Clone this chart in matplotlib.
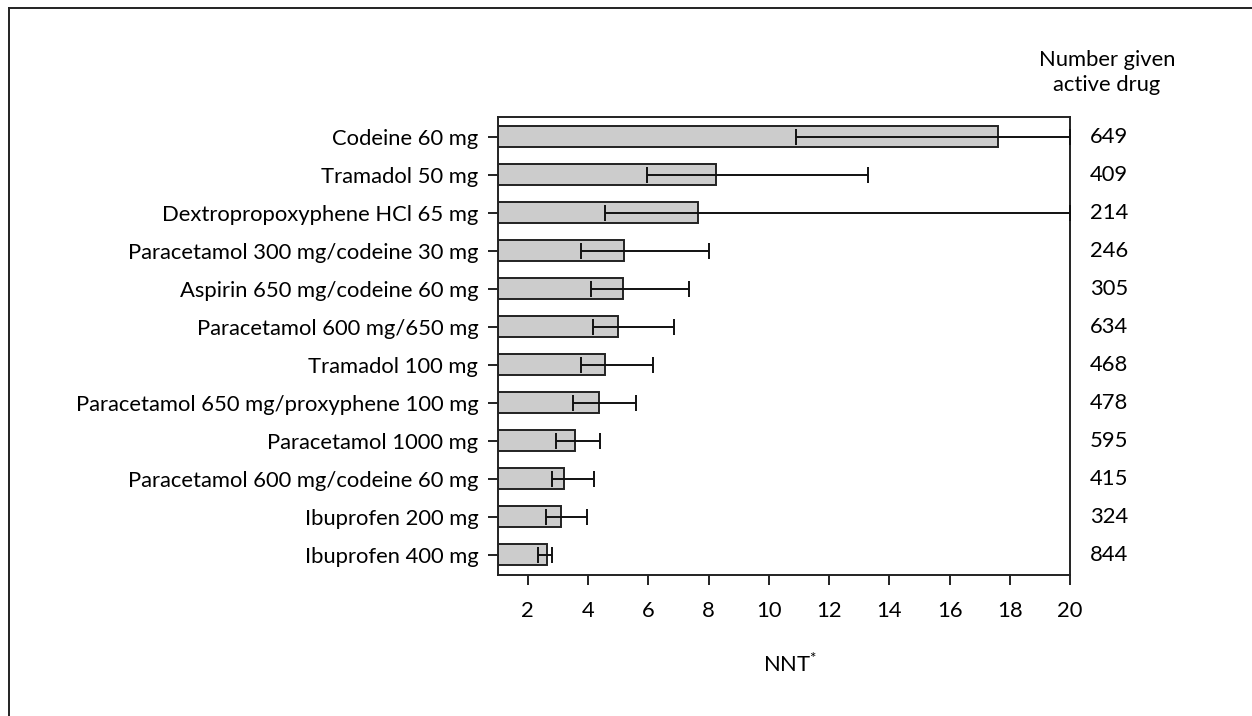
import matplotlib
matplotlib.use('Agg')
import matplotlib.pyplot as plt
from matplotlib.lines import Line2D
from matplotlib.transforms import blended_transform_factory

plt.rcParams['font.family'] = ['Lato', 'DejaVu Sans']
plt.rcParams['mathtext.fontset'] = 'custom'
plt.rcParams['mathtext.rm'] = 'Lato'

drugs = ['Codeine 60 mg', 'Tramadol 50 mg', 'Dextropropoxyphene HCl 65 mg',
         'Paracetamol 300 mg/codeine 30 mg', 'Aspirin 650 mg/codeine 60 mg',
         'Paracetamol 600 mg/650 mg', 'Tramadol 100 mg',
         'Paracetamol 650 mg/proxyphene 100 mg', 'Paracetamol 1000 mg',
         'Paracetamol 600 mg/codeine 60 mg', 'Ibuprofen 200 mg', 'Ibuprofen 400 mg']
nnt = [17.6, 8.25, 7.65, 5.2, 5.15, 5.0, 4.55, 4.35, 3.55, 3.2, 3.1, 2.65]
ci_low = [10.9, 5.95, 4.55, 3.75, 4.1, 4.15, 3.75, 3.5, 2.95, 2.8, 2.6, 2.35]
ci_high = [20, 13.3, 20, 8.0, 7.35, 6.85, 6.15, 5.6, 4.4, 4.2, 3.95, 2.8]
n_given = [649, 409, 214, 246, 305, 634, 468, 478, 595, 415, 324, 844]
xticks = [2, 4, 6, 8, 10, 12, 14, 16, 18, 20]

FS = 15.8
W, H = 1252, 716
fig = plt.figure(figsize=(W / 100, H / 100), dpi=100)
l, r, t, b = 497.7, 1070, 116.7, 575
ax = fig.add_axes([l / W, 1 - b / H, (r - l) / W, (b - t) / H])

y = list(range(len(drugs)))
widths = [v - 1 for v in nnt]
ax.barh(y, widths, left=1, height=0.55, color='#cccccc', edgecolor='#222222', linewidth=1.4, zorder=2)
mid = [(lo + hi) / 2 for lo, hi in zip(ci_low, ci_high)]
half = [(hi - lo) / 2 for lo, hi in zip(ci_low, ci_high)]
ax.errorbar(mid, y, xerr=half, fmt='none', ecolor='#111111', elinewidth=1.4,
            capsize=6, capthick=1.4, zorder=3, clip_on=False)

ax.set_xlim(1, 20)
ax.set_ylim(len(drugs) - 0.47, -0.53)
ax.set_xticks(xticks)
ax.set_xticklabels([str(v) for v in xticks], fontsize=FS)
ax.set_yticks(y)
ax.set_yticklabels(drugs, fontsize=FS)
ax.tick_params(axis='both', length=7, width=1.4, color='#222222')
ax.tick_params(axis='x', pad=12)
ax.tick_params(axis='y', pad=7)
for s in ax.spines.values():
    s.set_linewidth(1.4)
    s.set_color('#222222')

# numbers column: figure x, data y
trans = blended_transform_factory(fig.transFigure, ax.transData)
for yi, n in zip(y, n_given):
    ax.text(1090 / W, yi, str(n), transform=trans, fontsize=FS, va='center', ha='left')

fig.text(1107 / W, 1 - 60 / H, 'Number given', fontsize=FS, ha='center', va='center')
fig.text(1107 / W, 1 - 85 / H, 'active drug', fontsize=FS, ha='center', va='center')
fig.text(790 / W, 1 - 664 / H, r'NNT$^{*}$', fontsize=FS, ha='center', va='center')

# frame around the figure (cut off at right and bottom)
fig.add_artist(Line2D([9 / W, 1], [1 - 8 / H, 1 - 8 / H], transform=fig.transFigure, color='#222222', lw=1.4))
fig.add_artist(Line2D([9 / W, 9 / W], [0, 1 - 8 / H], transform=fig.transFigure, color='#222222', lw=1.4))

fig.savefig('out.png', dpi=100)
